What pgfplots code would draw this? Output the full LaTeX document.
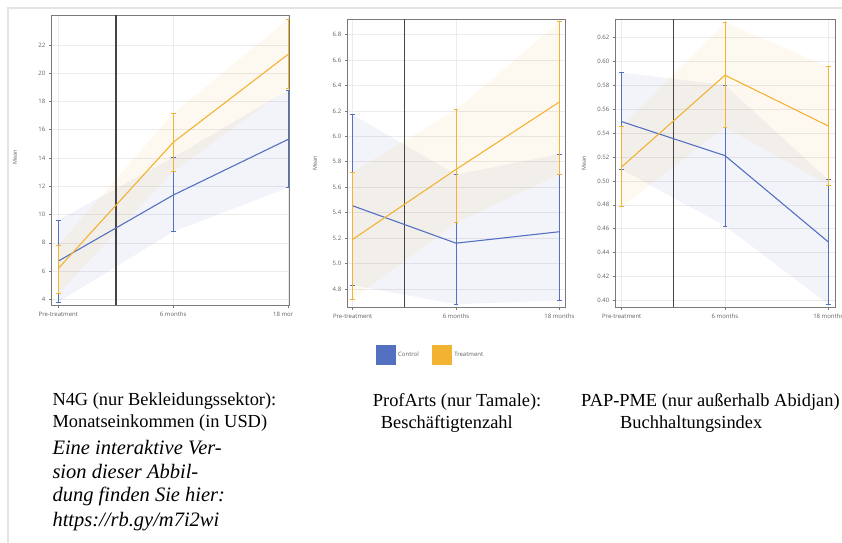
\documentclass[border=0pt]{standalone}
\usepackage{fontspec}
\setmainfont{Liberation Serif}
\newfontfamily\axfont{Open Sans}
\usepackage{pgfplots}
\usepackage{pgfplotstable}
\pgfplotsset{compat=1.18}
\definecolor{ctrl}{HTML}{5470C0}
\definecolor{treat}{HTML}{F2B232}
\definecolor{tickgray}{HTML}{606060}
\definecolor{gridgray}{HTML}{EBEBEB}
\definecolor{boxgray}{HTML}{7A7A7A}
\definecolor{framegray}{HTML}{E4E4E4}
\definecolor{vlinecol}{HTML}{444444}

% panel 1: N4G  (mean, lower and upper end of interval)
\pgfplotstableread{
x m lo hi
0 6.71 3.81 9.61
1 11.38 8.79 14.05
2 15.32 11.90 18.81
}\pAc
\pgfplotstableread{
x m lo hi
0 6.19 4.40 7.85
1 15.11 13.04 17.16
2 21.34 18.93 23.82
}\pAt
% panel 2: ProfArts
\pgfplotstableread{
x m lo hi
0 5.454 4.83 6.17
1 5.16 4.68 5.70
2 5.25 4.71 5.86
}\pBc
\pgfplotstableread{
x m lo hi
0 5.19 4.72 5.72
1 5.74 5.32 6.21
2 6.27 5.70 6.90
}\pBt
% panel 3: PAP-PME
\pgfplotstableread{
x m lo hi
0 0.5495 0.5094 0.5905
1 0.5211 0.4624 0.5800
2 0.4490 0.3970 0.5010
}\pCc
\pgfplotstableread{
x m lo hi
0 0.5117 0.4785 0.5454
1 0.5883 0.5448 0.6325
2 0.5459 0.4964 0.5955
}\pCt

\pgfplotsset{
 panel/.style={
  scale only axis,
  anchor=south west,
  axis line style={boxgray, line width=0.8bp},
  xmajorgrids, ymajorgrids,
  major grid style={gridgray, line width=0.6bp},
  xtick={0,1,2},
  xticklabels={Pre-treatment,6 months,18 months},
  tick align=outside,
  major tick length=3bp,
  tick style={boxgray, line width=0.6bp},
  xtick pos=left, ytick pos=left,
  ticklabel style={font=\axfont\fontsize{6bp}{7bp}\selectfont, text=tickgray},
  /pgf/number format/assume math mode=true,
  ylabel={Mean},
  ylabel style={font=\axfont\fontsize{5.5bp}{6bp}\selectfont, text=tickgray, anchor=center},
 },
 band/.style={fill=#1, fill opacity=0.075, draw=none, forget plot},
 meanline/.style={draw=#1, line width=1.1bp,
   error bars/y dir=both, error bars/y explicit,
   error bars/error mark=-,
   error bars/error bar style={draw=#1, line width=0.7bp},
   error bars/error mark options={rotate=90, draw=#1, mark size=2.4bp, line width=0.7bp, solid}},
}

\newcommand{\meanplots}[2]{%
  \addplot[legend image code/.code={\fill[ctrl] (0bp,-9.6bp) rectangle (19.3bp,9.6bp);}, meanline=ctrl]
    table[x=x, y=m, y error plus expr=\thisrow{hi}-\thisrow{m}, y error minus expr=\thisrow{m}-\thisrow{lo}] {#1};
  \addplot[legend image code/.code={\fill[treat] (0bp,-9.6bp) rectangle (19.3bp,9.6bp);}, meanline=treat]
    table[x=x, y=m, y error plus expr=\thisrow{hi}-\thisrow{m}, y error minus expr=\thisrow{m}-\thisrow{lo}] {#2};
}

\begin{document}
\begin{tikzpicture}
\path[use as bounding box] (0,0) rectangle (842bp,543bp);
\draw[framegray, line width=2bp] (8bp,0) -- (8bp,535bp) -- (842bp,535bp);

% Panel 1 (clipped at its right side as in the source screenshot)
\begin{scope}
\clip (0bp,0bp) rectangle (292bp,543bp);
\begin{axis}[panel,
  at={(51.7bp,237.7bp)}, width=237.6bp, height=290bp,
  xmin=-0.058, xmax=2.01, ymin=3.58, ymax=24.1,
  ytick={4,6,...,22},
  ylabel style={at={(axis description cs:-0.1545,0.51)}},
]
\addplot[band=ctrl] coordinates {(0,9.61) (1,14.05) (2,18.81) (2,11.90) (1,8.79) (0,3.81)};
\addplot[band=treat] coordinates {(0,7.85) (1,17.16) (2,23.82) (2,18.93) (1,13.04) (0,4.40)};
\addplot[vlinecol, line width=1.6bp, forget plot] coordinates {(0.5,3.58) (0.5,24.1)};
\meanplots{\pAc}{\pAt}
\end{axis}
\end{scope}

% Panel 2
\begin{axis}[panel,
  at={(347.7bp,235.7bp)}, width=218bp, height=288bp,
  xmin=-0.048, xmax=2.061, ymin=4.656, ymax=6.92,
  ytick={4.8,5.0,...,6.81},
  yticklabel style={/pgf/number format/.cd, fixed, fixed zerofill, precision=1},
  ylabel style={at={(axis description cs:-0.15,0.5)}},
  legend style={at={(axis description cs:0.128,-0.1646)}, anchor=west, draw=none, fill=none,
    legend columns=2, font=\axfont\fontsize{6bp}{7bp}\selectfont, text=tickgray,
    inner sep=0pt, /tikz/every even column/.append style={column sep=11bp}},
  legend cell align=left,
]
\addplot[band=ctrl] coordinates {(0,6.17) (1,5.70) (2,5.86) (2,4.71) (1,4.68) (0,4.83)};
\addplot[band=treat] coordinates {(0,5.72) (1,6.21) (2,6.90) (2,5.70) (1,5.32) (0,4.72)};
\addplot[vlinecol, line width=1.6bp, forget plot] coordinates {(0.5,4.656) (0.5,6.92)};
\meanplots{\pBc}{\pBt}
\addlegendentry{Control}
\addlegendentry{Treatment}
\end{axis}

% Panel 3
\begin{axis}[panel,
  at={(615.7bp,235.7bp)}, width=219.3bp, height=288bp,
  xmin=-0.058, xmax=2.065, ymin=0.3944, ymax=0.635,
  ytick={0.40,0.42,...,0.621},
  yticklabel style={/pgf/number format/.cd, fixed, fixed zerofill, precision=2},
  ylabel style={at={(axis description cs:-0.1446,0.5)}},
]
\addplot[band=ctrl] coordinates {(0,0.5905) (1,0.5800) (2,0.5010) (2,0.3970) (1,0.4624) (0,0.5094)};
\addplot[band=treat] coordinates {(0,0.5454) (1,0.6325) (2,0.5955) (2,0.4964) (1,0.5448) (0,0.4785)};
\addplot[vlinecol, line width=1.6bp, forget plot] coordinates {(0.5,0.3944) (0.5,0.635)};
\meanplots{\pCc}{\pCt}
\end{axis}

% Captions
\begin{scope}[every node/.style={anchor=base west, inner sep=0pt, font=\fontsize{18.4bp}{24bp}\selectfont}]
\node at (52.3bp,137bp) {N4G (nur Bekleidungssektor):};
\node at (52.3bp,115.3bp) {Monatseinkommen (in USD)};
\node at (372.7bp,136.3bp) {ProfArts (nur Tamale):};
\node at (380.7bp,114.5bp) {Beschäftigtenzahl};
\node at (581bp,136.3bp) {PAP-PME (nur außerhalb Abidjan)};
\node at (620bp,114.5bp) {Buchhaltungsindex};
\end{scope}
\begin{scope}[every node/.style={anchor=base west, inner sep=0pt, font=\fontsize{20.5bp}{24bp}\selectfont\itshape}]
\node at (52.3bp,88.7bp) {Eine interaktive Ver-};
\node at (52.3bp,64.7bp) {sion dieser Abbil-};
\node at (52.3bp,41.3bp) {dung finden Sie hier:};
\node at (52.3bp,16.3bp) {https://rb.gy/m7i2wi};
\end{scope}
\end{tikzpicture}
\end{document}
